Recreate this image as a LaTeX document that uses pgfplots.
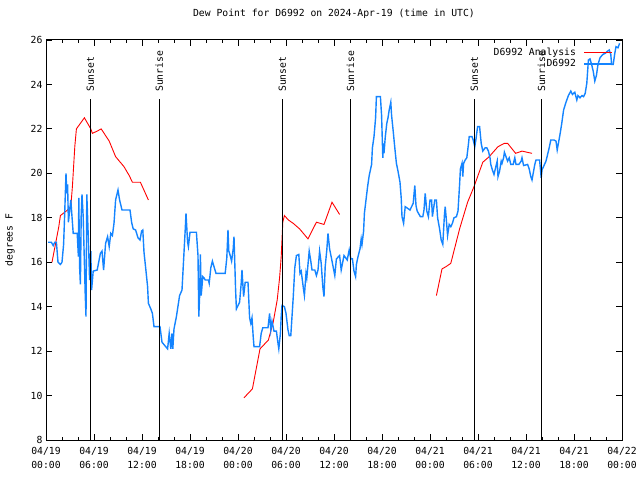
\documentclass[border=0pt]{standalone}
\usepackage{fontspec}
\setmainfont{DejaVu Sans Mono}
\usepackage{pgfplots}
\pgfplotsset{compat=1.18}
\definecolor{dpblue}{RGB}{20,132,255}
\newcommand\gf{\fontsize{9.75bp}{12bp}\selectfont}
\begin{document}
\begin{tikzpicture}
\path[use as bounding box] (0,0) rectangle (640bp,480bp);
\begin{axis}[
  at={(46bp,40bp)}, anchor=south west,
  scale only axis, width=576bp, height=400bp,
  xmin=0, xmax=72, ymin=8, ymax=26,
  xtick={0,6,...,72},
  xticklabels={{04/19\\00:00},{04/19\\06:00},{04/19\\12:00},{04/19\\18:00},{04/20\\00:00},{04/20\\06:00},{04/20\\12:00},{04/20\\18:00},{04/21\\00:00},{04/21\\06:00},{04/21\\12:00},{04/21\\18:00},{04/22\\00:00}},
  minor x tick num=2,
  ytick={8,10,...,26},
  tick align=inside,
  major tick length=6bp, minor tick length=3bp,
  tick style={black, line width=0.8bp},
  axis line style={line width=1bp},
  font=\gf, tick label style={font=\gf},
  xticklabel style={align=center, yshift=-4bp, font=\fontsize{9.75bp}{14bp}\selectfont},
  /pgf/number format/assume math mode=true,
  title={Dew Point for D6992 on 2024-Apr-19 (time in UTC)},
  title style={at={(axis description cs:0.5,1.05)}, anchor=center, font=\gf},
  ylabel={degrees F},
  ylabel style={at={(axis description cs:-0.0625,0.5)}, anchor=center, font=\gf},
  legend style={draw=none, fill=none, at={(axis description cs:1,1)}, anchor=north east,
    xshift=-6bp, yshift=-4bp, font=\gf, nodes={inner sep=1.5bp}, row sep=0bp,
    /tikz/every odd column/.append style={column sep=6bp}},
  legend cell align=right, legend plot pos=right,
  legend image code/.code={\draw[#1] (0bp,0bp) -- (28bp,0bp);},
]
\addplot[red, line width=0.9bp] coordinates {
(0.75,16.0) (1.6,17.6) (1.8,18.1) (2.7,18.35) (3.1,18.5) (3.3,19.4) (3.6,21.2) (3.8,22.0) (4.3,22.25) (4.8,22.5) (5.6,22.0) (5.8,21.8) (6.4,21.9) (6.9,22.0) (7.9,21.45) (8.7,20.75) (9.75,20.3) (10.4,19.9) (10.8,19.6) (11.8,19.6) (12.8,18.8)
};
\addlegendentry{D6992 Analysis}
\addplot[red, line width=0.9bp, forget plot] coordinates {
(24.75,9.9) (25.8,10.3) (26.75,12.1) (27.8,12.5) (28.4,13.3) (28.9,14.3) (29.2,15.3) (29.4,16.25) (29.6,17.8) (29.8,18.1) (30.3,17.9) (30.9,17.75) (31.7,17.5) (32.75,17.05) (33.8,17.8) (34.75,17.7) (35.75,18.7) (36.7,18.15)
};
\addplot[red, line width=0.9bp, forget plot] coordinates {
(48.8,14.5) (49.5,15.7) (50.0,15.8) (50.6,15.95) (51.7,17.5) (52.7,18.7) (53.5,19.4) (54.6,20.5) (55.4,20.75) (56.5,21.2) (57.3,21.35) (57.7,21.35) (58.7,20.9) (59.5,21.0) (60.75,20.9)
};
\addplot[dpblue, line width=1.4bp] coordinates {
(0.25,16.9) (0.67,16.9) (0.9,16.75) (1.1,16.9) (1.3,16.9) (1.5,16.0) (1.8,15.9) (2.0,16.0) (2.2,16.8) (2.3,17.8) (2.5,20.0) (2.6,19.1) (2.7,19.5) (2.8,17.8) (3.1,18.8)
(3.4,17.3) (3.9,17.3) (4.05,16.25) (4.1,18.9) (4.2,15.8) (4.3,15.0) (4.4,18.1) (4.5,19.05) (4.65,18.05) (4.8,15.95) (4.9,14.6) (5.0,13.55) (5.1,19.05) (5.2,18.05) (5.35,16.4) (5.45,15.2) (5.6,16.5) (5.7,14.75) (5.9,15.6) (6.4,15.65) (6.8,16.4) (7.0,16.5) (7.2,15.65) (7.45,16.85) (7.7,17.15) (7.9,16.7) (8.1,17.3) (8.3,17.2) (8.5,17.75) (8.7,18.8) (9.0,19.25) (9.2,18.8) (9.5,18.35) (10.5,18.35) (10.7,17.8) (10.9,17.5) (11.2,17.45) (11.5,17.1) (11.75,17.0) (11.95,17.4) (12.1,17.45) (12.25,16.45) (12.5,15.6) (12.7,14.9) (12.8,14.15) (13.1,13.9) (13.3,13.7) (13.5,13.1) (14.25,13.1) (14.5,12.4) (15.2,12.1) (15.4,12.8) (15.6,12.1) (15.75,12.8) (15.85,12.1) (16.0,13.0) (16.3,13.55) (16.7,14.5) (17.0,14.75) (17.2,16.1) (17.4,17.45) (17.5,18.2) (17.7,16.9) (17.8,16.7) (18.0,17.35) (18.8,17.35) (19.0,16.3) (19.1,13.55) (19.2,14.45) (19.3,16.35) (19.4,14.5) (19.6,15.35) (19.75,15.3) (19.9,15.2) (20.3,15.2) (20.4,15.05) (20.6,15.75) (20.8,16.05) (21.0,15.8) (21.25,15.5) (22.4,15.5) (22.6,16.2) (22.75,17.45) (22.85,16.5) (22.95,16.4) (23.2,16.05) (23.4,16.6) (23.5,17.15) (23.7,14.75) (23.8,13.9) (24.2,14.2) (24.4,15.05) (24.5,15.65) (24.7,14.45) (24.9,15.1) (25.25,15.1) (25.45,13.5) (25.6,13.25) (25.75,13.5) (25.9,12.65) (26.0,12.2) (26.7,12.2) (26.9,12.8) (27.1,13.05) (27.75,13.05) (27.95,13.7) (28.1,12.95) (28.25,13.35) (28.5,12.9) (28.8,12.9) (29.0,12.35) (29.1,12.1) (29.3,12.8) (29.4,13.55) (29.5,14.05) (29.8,14.0) (30.0,13.7) (30.25,12.95) (30.4,12.7) (30.6,12.7) (30.75,13.55) (30.9,14.4) (31.1,15.75) (31.3,16.3) (31.6,16.35) (31.75,15.5) (31.9,15.6) (32.2,14.75) (32.3,14.5) (32.5,15.5) (32.6,15.3) (32.9,16.5) (33.1,16.05) (33.25,15.65) (33.6,15.65) (33.8,15.4) (34.0,15.65) (34.2,16.5) (34.4,15.95) (34.6,14.9) (34.75,14.45) (34.9,15.8) (35.1,16.55) (35.25,17.3) (35.45,16.6) (35.7,16.15) (36.1,15.4) (36.3,16.15) (36.7,16.3) (36.9,15.65) (37.25,16.3) (37.65,16.1) (37.9,16.55) (38.1,16.15) (38.3,16.15) (38.5,15.6) (38.7,15.35) (38.8,15.9) (39.0,16.25) (39.25,16.6) (39.4,17.05) (39.5,16.8) (39.7,17.4) (39.8,18.2) (40.0,18.8) (40.2,19.4) (40.4,19.9) (40.7,20.4) (40.8,21.15) (41.0,21.65) (41.2,22.5) (41.3,23.45) (41.8,23.45) (41.95,22.6) (42.1,20.7) (42.15,21.35) (42.25,20.9) (42.4,21.6) (42.6,22.25) (42.75,22.5) (42.9,22.85) (43.1,23.2) (43.2,22.6) (43.4,21.9) (43.6,21.15) (43.8,20.45) (44.0,20.1) (44.25,19.6) (44.4,18.9) (44.5,18.05) (44.7,17.75) (44.9,18.5) (45.5,18.35) (45.9,18.65) (46.1,19.45) (46.25,18.55) (46.4,18.3) (46.8,18.05) (47.1,18.05) (47.25,18.35) (47.4,19.1) (47.6,18.3) (47.8,18.05) (48.0,18.8) (48.2,18.8) (48.3,18.05) (48.6,18.8) (48.8,18.8) (48.95,18.0) (49.2,17.5) (49.4,17.0) (49.6,16.8) (49.8,18.1) (49.9,18.5) (50.0,18.1) (50.2,17.2) (50.4,17.7) (50.6,17.6) (50.8,17.75) (51.0,18.0) (51.3,18.05) (51.5,18.3) (51.7,19.5) (51.8,20.2) (52.0,20.45) (52.1,19.85) (52.2,20.45) (52.4,20.6) (52.6,20.7) (52.8,21.3) (52.9,21.65) (53.25,21.65) (53.4,21.5) (53.6,21.2) (53.75,21.55) (53.95,22.1) (54.2,22.1) (54.4,21.35) (54.6,21.0) (54.9,21.15) (55.1,21.15) (55.3,21.0) (55.5,20.7) (55.6,20.4) (55.8,20.15) (56.0,19.95) (56.2,20.25) (56.4,20.55) (56.5,19.85) (56.7,20.1) (56.9,20.55) (57.0,20.45) (57.2,20.7) (57.3,20.95) (57.5,20.75) (57.7,20.55) (57.9,20.7) (58.1,20.4) (58.4,20.4) (58.6,20.7) (58.75,20.4) (59.1,20.4) (59.4,20.55) (59.5,20.7) (59.7,20.35) (60.2,20.4) (60.4,20.2) (60.6,19.85) (60.75,19.7) (60.9,20.0) (61.1,20.4) (61.25,20.6) (61.7,20.6) (61.9,19.8) (62.0,20.15) (62.5,20.55) (62.7,20.85) (62.9,21.15) (63.1,21.5) (63.5,21.5) (63.75,21.45) (63.9,21.05) (64.1,21.45) (64.25,21.75) (64.45,22.2) (64.7,22.85) (65.0,23.2) (65.3,23.5) (65.6,23.7) (65.8,23.55) (66.1,23.65) (66.35,23.3) (66.5,23.5) (66.75,23.4) (67.0,23.5) (67.2,23.45) (67.4,23.6) (67.6,24.05) (67.8,25.1) (68.0,25.15) (68.2,24.9) (68.4,24.6) (68.6,24.15) (68.8,24.4) (69.0,24.9) (69.25,25.2) (69.6,25.35) (69.9,25.4) (70.2,25.5) (70.4,25.55) (70.6,25.35) (70.7,24.9) (70.9,24.9) (71.1,25.4) (71.25,25.7) (71.5,25.65) (71.7,25.85)
};
\addlegendentry{D6992}
\addplot[black, line width=1bp, forget plot] coordinates {(5.54,8) (5.54,23.35)};
\addplot[black, line width=1bp, forget plot] coordinates {(14.15,8) (14.15,23.35)};
\addplot[black, line width=1bp, forget plot] coordinates {(29.54,8) (29.54,23.35)};
\addplot[black, line width=1bp, forget plot] coordinates {(38.05,8) (38.05,23.35)};
\addplot[black, line width=1bp, forget plot] coordinates {(53.54,8) (53.54,23.35)};
\addplot[black, line width=1bp, forget plot] coordinates {(61.95,8) (61.95,23.35)};
\node[rotate=90, anchor=west, inner sep=0pt, font=\gf] at (axis cs:5.54,23.66) {Sunset};
\node[rotate=90, anchor=west, inner sep=0pt, font=\gf] at (axis cs:14.15,23.66) {Sunrise};
\node[rotate=90, anchor=west, inner sep=0pt, font=\gf] at (axis cs:29.54,23.66) {Sunset};
\node[rotate=90, anchor=west, inner sep=0pt, font=\gf] at (axis cs:38.05,23.66) {Sunrise};
\node[rotate=90, anchor=west, inner sep=0pt, font=\gf] at (axis cs:53.54,23.66) {Sunset};
\node[rotate=90, anchor=west, inner sep=0pt, font=\gf] at (axis cs:61.95,23.66) {Sunrise};
\end{axis}
\end{tikzpicture}
\end{document}
